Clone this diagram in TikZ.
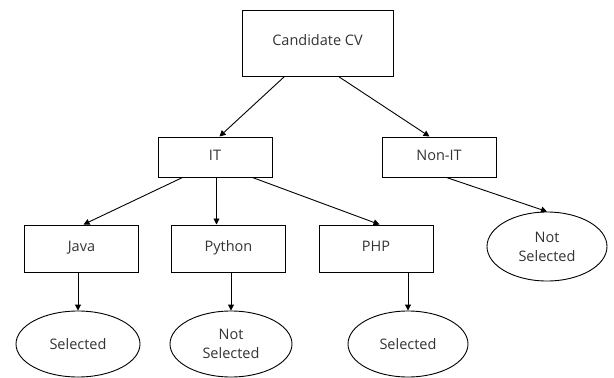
\documentclass[tikz,border=0pt]{standalone}
\usepackage{fontspec}
\setmainfont{Open Sans}
\usetikzlibrary{shapes.geometric,arrows.meta}
\begin{document}
\begin{tikzpicture}[x=1pt,y=-1pt,
  every node/.style={font=\fontsize{14.5}{19}\selectfont, text=black!80},
  box/.style={draw=black, line width=1pt, rectangle, inner sep=0pt},
  oval/.style={draw=black, line width=0.9pt, ellipse, inner sep=0pt, minimum width=122pt, minimum height=66pt, align=center},
  conn/.style={draw=black, line width=0.9pt, -{Triangle[length=6pt,width=6pt]}}]
\useasboundingbox (0,0) rectangle (614,378);
\node[box, minimum width=151pt, minimum height=66pt] (cv) at (317.5,43) {\raisebox{6pt}{Candidate CV}};
\node[box, minimum width=114pt, minimum height=40pt] (it) at (215,157) {\raisebox{3pt}{IT}};
\node[box, minimum width=114pt, minimum height=40pt] (nonit) at (439,157) {\raisebox{3pt}{Non-IT}};
\node[box, minimum width=114pt, minimum height=47pt] (java) at (81.5,248.5) {\raisebox{5pt}{Java}};
\node[box, minimum width=114pt, minimum height=47pt] (python) at (228.5,248.5) {\raisebox{5pt}{Python}};
\node[box, minimum width=114pt, minimum height=47pt] (php) at (376,248.5) {\raisebox{5pt}{PHP}};
\node[oval, minimum width=120pt, minimum height=69pt] (ns1) at (547,246.5) {Not\\Selected};
\node[oval, minimum width=124pt] (s1) at (78,344) {Selected};
\node[oval, minimum width=122pt] (ns2) at (231,344) {Not\\Selected};
\node[oval, minimum width=120pt] (s2) at (408,344) {Selected};
\draw[conn] ([xshift=43pt]cv.south west) -- ([xshift=62pt]it.north west);
\draw[conn] ([xshift=97pt]cv.south west) -- ([xshift=48pt]nonit.north west);
\draw[conn] ([xshift=25pt]it.south west) -- ([xshift=59.5pt]java.north west);
\draw[conn] ([xshift=59pt]it.south west) -- ([xshift=45.5pt]python.north west);
\draw[conn] ([xshift=95pt]it.south west) -- ([xshift=61pt]php.north west);
\draw[conn] ([xshift=65pt]nonit.south west) -- (ns1.north);
\draw[conn] (java.south -| s1.north) -- (s1.north);
\draw[conn] (python.south -| ns2.north) -- (ns2.north);
\draw[conn] (php.south -| s2.north) -- (s2.north);
\end{tikzpicture}
\end{document}
